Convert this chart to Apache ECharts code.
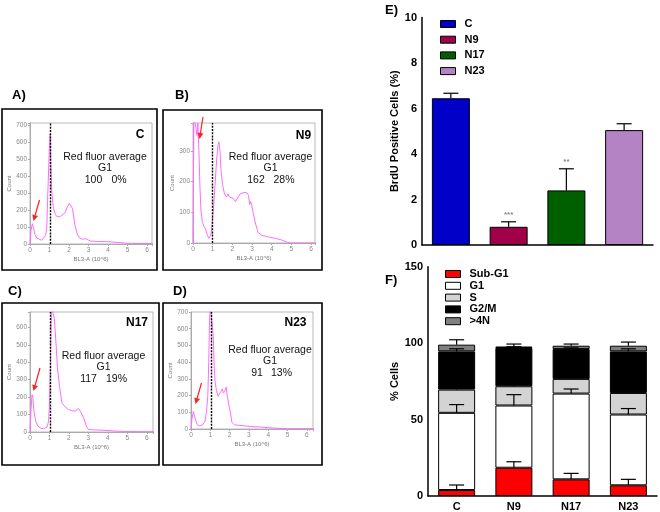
<!DOCTYPE html>
<html><head><meta charset="utf-8">
<script src="https://cdn.jsdelivr.net/npm/echarts@6/dist/echarts.min.js"></script>
<style>html,body{margin:0;padding:0;background:#fff}#c{width:660px;height:512px}</style>
</head><body><div id="c"></div>
<script>
// ---------- data ----------
const histNames = ['C', 'N9', 'N17', 'N23'];
const redFluorAvg = [100, 162, 117, 91];
const g1Pct = ['0%', '28%', '19%', '13%'];
const gateX = [1.03, 1.0, 1.03, 1.03];
const histC = [[0,0],[0.05,80],[0.12,120],[0.18,95],[0.26,55],[0.35,35],[0.45,28],[0.6,22],[0.7,25],[0.8,50],[0.86,95],[0.9,250],[0.95,420],[0.99,560],[1.03,650],[1.07,480],[1.12,300],[1.2,215],[1.3,175],[1.4,160],[1.55,162],[1.65,165],[1.8,185],[1.92,220],[2.02,240],[2.1,238],[2.18,210],[2.3,115],[2.42,60],[2.55,35],[2.7,28],[2.85,32],[2.95,28],[3.1,18],[3.4,15],[3.8,14],[4.2,12],[4.6,8],[5.0,4],[5.5,3],[6.3,3]];
const histN9 = [[0,0],[0.02,200],[0.05,420],[0.15,420],[0.2,350],[0.25,390],[0.3,300],[0.35,190],[0.4,110],[0.47,70],[0.55,55],[0.64,45],[0.72,28],[0.8,15],[0.87,22],[0.92,30],[0.98,70],[1.05,120],[1.12,190],[1.2,270],[1.27,320],[1.32,330],[1.37,300],[1.42,240],[1.5,190],[1.6,160],[1.7,150],[1.78,160],[1.85,150],[1.95,155],[2.05,145],[2.15,135],[2.22,132],[2.3,150],[2.4,160],[2.5,163],[2.6,165],[2.75,163],[2.82,155],[2.88,125],[2.93,135],[2.98,125],[3.05,100],[3.15,70],[3.3,35],[3.5,25],[3.8,20],[4.2,15],[4.5,10],[4.8,2],[5.0,0],[6.3,0]];
const histN17 = [[0,0],[0.05,120],[0.1,215],[0.15,200],[0.2,120],[0.3,60],[0.4,35],[0.55,22],[0.7,18],[0.8,20],[0.88,30],[0.95,60],[1.0,150],[1.05,400],[1.1,720],[1.2,720],[1.25,650],[1.33,520],[1.41,370],[1.52,260],[1.64,166],[1.72,155],[1.81,144],[1.98,129],[2.16,121],[2.33,121],[2.5,135],[2.64,108],[2.76,80],[2.9,32],[3.0,15],[3.3,12],[3.8,10],[4.3,6],[4.8,3],[5.5,2],[6.4,2]];
const histN23 = [[0,0],[0.05,60],[0.12,105],[0.18,95],[0.25,50],[0.33,25],[0.45,18],[0.6,25],[0.72,45],[0.8,100],[0.87,195],[0.92,400],[0.96,650],[1.0,740],[1.1,740],[1.15,560],[1.2,380],[1.25,280],[1.32,230],[1.4,195],[1.48,205],[1.55,225],[1.62,240],[1.68,215],[1.75,230],[1.82,250],[1.88,200],[1.95,150],[2.05,90],[2.12,40],[2.25,25],[2.5,22],[2.8,18],[3.2,14],[3.6,12],[4.0,8],[4.5,4],[5.0,2],[6.4,2]];
const histYMax = [715, 391, 688, 700];
const histXMax = [6.26, 6.2, 6.32, 6.32];

const groups = ['C', 'N9', 'N17', 'N23'];
const brduMean = [6.45, 0.8, 2.4, 5.05];
const brduErr = [0.22, 0.22, 0.95, 0.28];
const brduSig = ['', '***', '**', ''];

const phases = ['Sub-G1', 'G1', 'S', 'G2/M', '>4N'];
const subG1 = [3.9, 18.5, 10.9, 7.0];
const g1 = [50.5, 40.7, 56.1, 46.3];
const sPhase = [15.2, 12.6, 9.6, 14.1];
const g2m = [25.0, 25.0, 19.5, 27.2];
const over4n = [4.4, 1.0, 2.2, 3.7];
const subG1Err = [3.3, 3.9, 3.9, 3.9];
const g1Err = [5.4, 7.1, 3.0, 3.9];
const sErr = [2.0, 2.0, 2.0, 2.0];
const g2mErr = [1.7, 0.8, 0.8, 1.7];
const over4nErr = [3.2, 1.6, 1.1, 2.4];

// ---------- styles / layout ----------
const FONT = 'Liberation Sans, Arial, sans-serif';
const histGrids = [
  {left: 30, top: 123, width: 122, height: 121},
  {left: 193, top: 123, width: 122, height: 120},
  {left: 30, top: 312, width: 123, height: 120},
  {left: 191, top: 312, width: 122, height: 117}
];
const histColors = ['#ff6cff'];
const brduColors = ['#0000c8', '#a0004a', '#006000', '#b383c4'];
const phaseColors = ['#ff0000', '#ffffff', '#d3d3d3', '#000000', '#808080'];

const grid = [], xAxis = [], yAxis = [], series = [];
const histData = [histC, histN9, histN17, histN23];
function stepFmt(step) { return v => (Math.abs(v / step - Math.round(v / step)) < 1e-6 ? String(Math.round(v)) : ''); }

histGrids.forEach((g, i) => {
  grid.push(Object.assign({show: true, borderColor: '#b8b8b8', borderWidth: 1, backgroundColor: '#fff'}, g));
  xAxis.push({type: 'value', gridIndex: i, min: 0, max: histXMax[i], interval: 1,
    name: 'BL3-A (10^6)', nameLocation: 'middle', nameGap: 12,
    nameTextStyle: {fontSize: 6, color: '#777', fontFamily: FONT},
    axisLine: {lineStyle: {color: '#aaa'}}, axisTick: {length: 2, lineStyle: {color: '#aaa'}},
    axisLabel: {fontSize: 6.5, color: '#888', margin: 3, fontFamily: FONT, formatter: stepFmt(1)},
    splitLine: {show: false}});
  yAxis.push({type: 'value', gridIndex: i, min: 0, max: histYMax[i], interval: 100,
    name: 'Count', nameLocation: 'middle', nameGap: 17,
    nameTextStyle: {fontSize: 6, color: '#777', fontFamily: FONT},
    axisLine: {show: true, lineStyle: {color: '#aaa'}}, axisTick: {length: 2, lineStyle: {color: '#aaa'}},
    axisLabel: {fontSize: 6.5, color: '#888', margin: 3, fontFamily: FONT, formatter: stepFmt(100)},
    splitLine: {show: false}});
  series.push({type: 'line', xAxisIndex: i, yAxisIndex: i, data: histData[i], showSymbol: false,
    lineStyle: {color: histColors[0], width: 1}, clip: true, z: 3,
    markLine: {silent: true, symbol: ['none', 'none'], label: {show: false},
      lineStyle: {color: '#000', type: [2, 1.2], width: 1.4}, data: [{xAxis: gateX[i]}]}});
});

// E: BrdU
grid.push({left: 422, top: 17.5, width: 231, height: 227.5});
xAxis.push({type: 'category', gridIndex: 4, data: groups, axisLabel: {show: false}, axisTick: {show: false},
  axisLine: {lineStyle: {color: '#000', width: 1.5}}});
yAxis.push({type: 'value', gridIndex: 4, min: 0, max: 10, interval: 2,
  name: 'BrdU Positive Cells (%)', nameLocation: 'middle', nameGap: 20,
  nameTextStyle: {fontSize: 11, fontWeight: 'bold', color: '#000', fontFamily: FONT},
  axisLine: {show: true, lineStyle: {color: '#000', width: 1.5}}, axisTick: {length: 4, lineStyle: {color: '#000', width: 1.5}},
  axisLabel: {fontSize: 11, fontWeight: 'bold', color: '#000', margin: 5, fontFamily: FONT},
  splitLine: {show: false}});
groups.forEach((g, i) => {
  series.push({name: g, type: 'bar', xAxisIndex: 4, yAxisIndex: 4, stack: 'e', barWidth: 38,
    data: groups.map((_, j) => j === i ? brduMean[j] : '-'),
    itemStyle: {color: brduColors[i], borderColor: '#000', borderWidth: 1}});
});
function errRenderer(sig) {
  return function (params, api) {
    const idx = api.value(0), t = api.value(1), e = api.value(2);
    const p0 = api.coord([idx, t]), p1 = api.coord([idx, t + e]);
    const hw = 7.5;
    const ch = [
      {type: 'line', shape: {x1: p0[0], y1: p0[1], x2: p1[0], y2: p1[1]}, style: {stroke: '#000', lineWidth: 1.2}},
      {type: 'line', shape: {x1: p1[0] - hw, y1: p1[1], x2: p1[0] + hw, y2: p1[1]}, style: {stroke: '#000', lineWidth: 1.2}}
    ];
    if (sig && sig[params.dataIndex]) {
      ch.push({type: 'text', style: {text: sig[params.dataIndex], x: p1[0], y: p1[1] - 3, align: 'center', verticalAlign: 'bottom',
        fill: '#888', font: 'bold 8px ' + FONT}});
    }
    return {type: 'group', children: ch};
  };
}
series.push({type: 'custom', xAxisIndex: 4, yAxisIndex: 4, z: 5,
  data: groups.map((_, i) => [i, brduMean[i], brduErr[i]]), renderItem: errRenderer(brduSig)});

// F: cell cycle
grid.push({left: 428, top: 266.7, width: 229, height: 230});
xAxis.push({type: 'category', gridIndex: 5, data: groups, axisTick: {show: false},
  axisLine: {lineStyle: {color: '#000', width: 1.5}},
  axisLabel: {fontSize: 11, fontWeight: 'bold', color: '#000', margin: 5, fontFamily: FONT}});
yAxis.push({type: 'value', gridIndex: 5, min: 0, max: 150, interval: 50,
  name: '% Cells', nameLocation: 'middle', nameGap: 25,
  nameTextStyle: {fontSize: 11, fontWeight: 'bold', color: '#000', fontFamily: FONT},
  axisLine: {show: true, lineStyle: {color: '#000', width: 1.5}}, axisTick: {length: 4, lineStyle: {color: '#000', width: 1.5}},
  axisLabel: {fontSize: 11, fontWeight: 'bold', color: '#000', margin: 5, fontFamily: FONT},
  splitLine: {show: false}});
const phaseVals = [subG1, g1, sPhase, g2m, over4n];
const phaseErrs = [subG1Err, g1Err, sErr, g2mErr, over4nErr];
phases.forEach((p, k) => {
  series.push({name: p, type: 'bar', xAxisIndex: 5, yAxisIndex: 5, stack: 'f', barWidth: 37,
    data: phaseVals[k], itemStyle: {color: phaseColors[k], borderColor: '#000', borderWidth: 1}});
});
const errData = [];
groups.forEach((_, i) => {
  let cum = 0;
  phases.forEach((p, k) => { cum += phaseVals[k][i]; errData.push([i, cum, phaseErrs[k][i]]); });
});
series.push({type: 'custom', xAxisIndex: 5, yAxisIndex: 5, z: 5, data: errData, renderItem: errRenderer(null)});

// ---------- annotations ----------
const graphic = [];
const boxes = [[2, 109, 155, 161], [163, 110, 159, 160], [2, 303, 157, 162], [163, 303, 159, 162]];
boxes.forEach(b => graphic.push({type: 'rect', shape: {x: b[0], y: b[1], width: b[2], height: b[3]},
  style: {fill: null, stroke: '#000', lineWidth: 1.6}, z: 10}));
const panelLabels = [['A)', 12, 95], ['B)', 175, 95], ['C)', 8, 291], ['D)', 173, 291], ['E)', 385, 10], ['F)', 385, 280]];
panelLabels.forEach(l => graphic.push({type: 'text', x: l[1], y: l[2],
  style: {text: l[0], font: 'bold 13px ' + FONT, fill: '#000', verticalAlign: 'middle'}}));
const txtPos = [ // [nameX, nameY, textX, textY(line1), numX, pctX]
  [140, 135, 105, 157, 93.5, 119],
  [303.5, 136, 270.5, 157, 256, 284],
  [137, 323, 103.5, 356, 88.5, 116.5],
  [295.5, 323, 270, 350, 257, 281.5]
];
txtPos.forEach((t, i) => {
  const gap = 11.5;
  graphic.push({type: 'text', x: t[0], y: t[1], z: 12, style: {text: histNames[i], font: 'bold 12px ' + FONT, fill: '#000', align: 'center', verticalAlign: 'middle'}});
  graphic.push({type: 'text', x: t[2], y: t[3], z: 12, style: {text: 'Red fluor average', font: '10.5px ' + FONT, fill: '#111', align: 'center', verticalAlign: 'middle'}});
  graphic.push({type: 'text', x: t[2], y: t[3] + gap, z: 12, style: {text: 'G1', font: '10.5px ' + FONT, fill: '#111', align: 'center', verticalAlign: 'middle'}});
  graphic.push({type: 'text', x: t[4], y: t[3] + 2 * gap, z: 12, style: {text: String(redFluorAvg[i]), font: '10.5px ' + FONT, fill: '#111', align: 'center', verticalAlign: 'middle'}});
  graphic.push({type: 'text', x: t[5], y: t[3] + 2 * gap, z: 12, style: {text: g1Pct[i], font: '10.5px ' + FONT, fill: '#111', align: 'center', verticalAlign: 'middle'}});
});
const arrows = [[39.5, 200, 33.5, 221], [203, 117, 199.5, 139], [40, 368, 33.5, 391], [201.5, 383, 195.5, 404]];
arrows.forEach(a => {
  const dx = a[2] - a[0], dy = a[3] - a[1], L = Math.hypot(dx, dy), ux = dx / L, uy = dy / L;
  const hl = 6, hw = 3;
  const bx = a[2] - ux * hl, by = a[3] - uy * hl;
  graphic.push({type: 'line', z: 12, shape: {x1: a[0], y1: a[1], x2: bx, y2: by}, style: {stroke: '#ff2020', lineWidth: 1.2}});
  graphic.push({type: 'polygon', z: 12, shape: {points: [[a[2], a[3]], [bx - uy * hw, by + ux * hw], [bx + uy * hw, by - ux * hw]]}, style: {fill: '#ff2020'}});
});

const option = {
  animation: false,
  backgroundColor: '#fff',
  textStyle: {fontFamily: FONT},
  grid, xAxis, yAxis, series, graphic,
  legend: [
    {data: groups, orient: 'vertical', left: 440, top: 18, itemWidth: 15, itemHeight: 7, itemGap: 3.7, padding: 0, icon: 'rect',
      itemStyle: {borderColor: '#000', borderWidth: 1},
      textStyle: {fontSize: 11, fontWeight: 'bold', color: '#000', lineHeight: 12, padding: [0, 0, 0, 4]}},
    {data: phases, orient: 'vertical', left: 445, top: 268.5, itemWidth: 15, itemHeight: 7, itemGap: 0.8, padding: 0, icon: 'rect',
      itemStyle: {borderColor: '#000', borderWidth: 1},
      textStyle: {fontSize: 11, fontWeight: 'bold', color: '#000', lineHeight: 11, padding: [0, 0, 0, 4]}}
  ]
};
const chart = echarts.init(document.getElementById('c'), null, {renderer: 'canvas'});
chart.setOption(option);
</script></body></html>
